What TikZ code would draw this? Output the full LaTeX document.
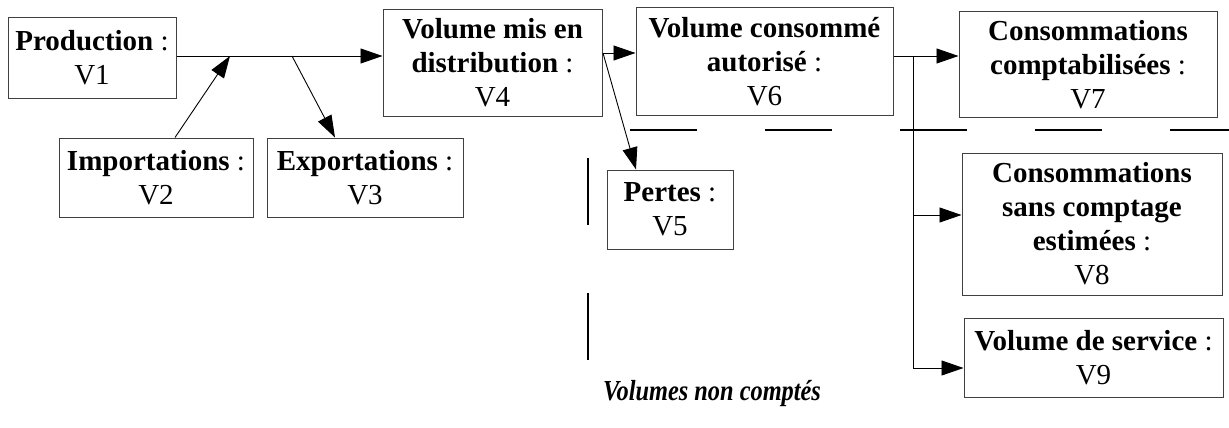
\documentclass[tikz,border=0pt]{standalone}
\usepackage{fontspec}
\setmainfont{Liberation Serif}
\usetikzlibrary{arrows.meta}
\tikzset{
  vbox/.style={draw=black!75, line width=1pt, align=center, inner sep=0pt,
    minimum width=#1, font=\fontsize{29}{34}\selectfont},
  arr/.style={line width=0.9pt, -{Triangle[length=22pt,width=15pt]}},
  link/.style={line width=0.9pt},
  border/.style={line width=2pt, dash pattern=on 67pt off 68pt}
}
\begin{document}
\begin{tikzpicture}[x=1pt,y=-1pt]
\useasboundingbox (0,0) rectangle (1229,428);

% volume boxes
\node[vbox=168pt, minimum height=80pt] (prod) at (92,58)
  {\textbf{Production} :\\V1};
\node[vbox=194pt, minimum height=79pt] (imp) at (156,177.5)
  {\textbf{Importations} :\\V2};
\node[vbox=196pt, minimum height=79pt] (exp) at (365,177.5)
  {\textbf{Exportations} :\\V3};
\node[vbox=219pt, minimum height=106pt] (vfour) at (492.5,63)
  {\textbf{Volume mis en}\\\textbf{distribution} :\\V4};
\node[vbox=126pt, minimum height=79pt] (vfive) at (670,209.5)
  {\textbf{Pertes} :\\V5};
\node[vbox=257pt, minimum height=107pt] (vsix) at (764.5,61.5)
  {\textbf{Volume consommé}\\\textbf{autorisé} :\\V6};
\node[vbox=258pt, minimum height=105pt] (vseven) at (1088,64.5)
  {\textbf{Consommations}\\\textbf{comptabilisées} :\\V7};
\node[vbox=260pt, minimum height=142pt] (veight) at (1092,224)
  {\textbf{Consommations}\\\textbf{sans comptage}\\\textbf{estimées} :\\V8};
\node[vbox=259pt, minimum height=79pt] (vnine) at (1093.5,357.5)
  {\textbf{Volume de service} :\\V9};

% junction points on the main line
\coordinate (jimp) at (230,56);
\coordinate (jexp) at (292,56);
\coordinate (jfour) at (603,53);
\coordinate (jsix) at (913,56);

% connectors
\draw[arr] (prod.east |- jimp) -- (vfour.west |- jimp);
\draw[arr] ([xshift=19pt]imp.north) -- (jimp);
\draw[arr] (jexp) -- ([xshift=-30pt]exp.north);
\draw[arr] (jfour) -- (vsix.west |- jfour);
\draw[arr] (jfour) -- ([xshift=-34pt]vfive.north);
\draw[arr] (vsix.east |- jsix) -- (vseven.west |- jsix);
\draw[link] (jsix) -- (jsix |- 0,368);
\draw[arr] (jsix |- 0,215) -- (veight.west |- 0,215);
\draw[arr] (jsix |- 0,368) -- (vnine.west |- 0,368);

% limits of the uncounted volumes
\coordinate (hstart) at (630,130);
\coordinate (hend) at (1229,130);
\coordinate (vstart) at (588,158);
\coordinate (vend) at (588,360);
\draw[border] (hstart) -- (hend);
\draw[border] (vstart) -- (vend);

\node[font=\fontsize{29}{34}\selectfont\bfseries\itshape] (label) at (712,394)
  {\scalebox{0.84}[1]{Volumes non comptés}};
\end{tikzpicture}
\end{document}
